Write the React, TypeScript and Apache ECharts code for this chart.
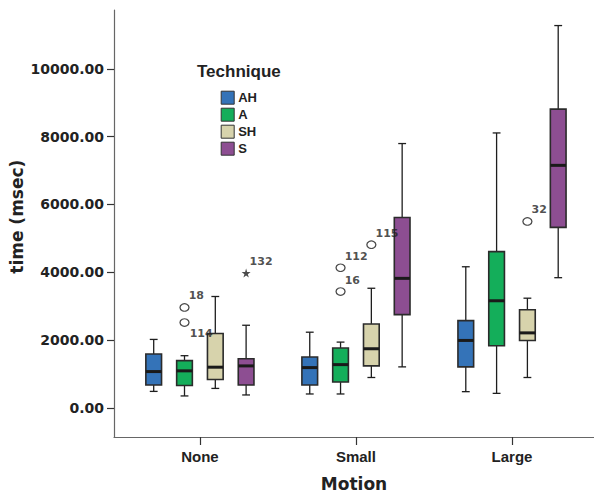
import React, { useEffect, useRef } from "react";
import * as echarts from "echarts";

const categories = ["None", "Small", "Large"];
const techniques = ["AH", "A", "SH", "S"];
const techColors = ["#3473b8", "#14ae5a", "#d7d3ac", "#8d4e92"];

// [low whisker, Q1, median, Q3, high whisker] for None, Small, Large
const ahStats = [
  [485, 672, 1070, 1588, 2018],
  [409, 672, 1187, 1500, 2231],
  [477, 1208, 1988, 2573, 4161],
];
const aStats = [
  [351, 661, 1091, 1392, 1538],
  [409, 760, 1275, 1763, 1939],
  [427, 1830, 3158, 4608, 8108],
];
const shStats = [
  [573, 836, 1199, 2193, 3284],
  [895, 1237, 1743, 2474, 3527],
  [895, 1988, 2211, 2895, 3234],
];
const sStats = [
  [380, 672, 1237, 1450, 2436],
  [1208, 2749, 3819, 5614, 7795],
  [3839, 5322, 7152, 8810, 11275],
];
const allStats = [ahStats, aStats, shStats, sStats];

// outliers (circles)
const outlierIds = ["18", "114", "112", "16", "115", "32"];
const outlierTech = [1, 1, 1, 1, 2, 2];
const outlierCat = [0, 0, 1, 1, 1, 2];
const outlierValues = [2962, 2515, 4132, 3430, 4813, 5497];
const outlierLabelBelow = [false, true, false, false, false, false];

// extremes (stars)
const extremeIds = ["132"];
const extremeTech = [3];
const extremeCat = [0];
const extremeValues = [3977];

const yTicks = [0, 2000, 4000, 6000, 8000, 10000];
const catTicks = [0, 1, 2];

const GROUP_STEP = 0.1974;
const BOX_W = 0.1006;
const techOffset = (j: number) => (j - 1.5) * GROUP_STEP;

export default function App() {
  const ref = useRef<HTMLDivElement>(null);
  useEffect(() => {
    document.body.style.margin = "0";
    if (!ref.current) return;
    const chart = echarts.init(ref.current, null, { renderer: "svg" });

    const boxSeries = allStats.map((stats, j) => ({
      type: "custom",
      name: techniques[j],
      itemStyle: { color: techColors[j] },
      encode: { x: 0, y: [1, 2, 3, 4, 5] },
      data: stats.map((s, i) => [i, ...s]),
      renderItem: (params: any, api: any) => {
        const x = api.value(0) + techOffset(j);
        const low = api.coord([x, api.value(1)]);
        const q1 = api.coord([x, api.value(2)]);
        const med = api.coord([x, api.value(3)]);
        const q3 = api.coord([x, api.value(4)]);
        const high = api.coord([x, api.value(5)]);
        const w = api.size([BOX_W, 0])[0];
        const c = low[0];
        const wl = { stroke: "#1e1e1e", lineWidth: 1.3 };
        return {
          type: "group",
          children: [
            { type: "line", shape: { x1: c, y1: high[1], x2: c, y2: q3[1] }, style: wl },
            { type: "line", shape: { x1: c, y1: q1[1], x2: c, y2: low[1] }, style: wl },
            { type: "line", shape: { x1: c - w / 4, y1: high[1], x2: c + w / 4, y2: high[1] }, style: wl },
            { type: "line", shape: { x1: c - w / 4, y1: low[1], x2: c + w / 4, y2: low[1] }, style: wl },
            {
              type: "rect",
              shape: { x: c - w / 2, y: q3[1], width: w, height: q1[1] - q3[1] },
              style: { fill: techColors[j], stroke: "#2b2b2b", lineWidth: 1.6 },
            },
            {
              type: "line",
              shape: { x1: c - w / 2, y1: med[1], x2: c + w / 2, y2: med[1] },
              style: { stroke: "#1a1a1a", lineWidth: 3 },
            },
          ],
        };
      },
      z: 2,
    }));

    const labelFont = {
      fontFamily: "DejaVu Sans",
      fontWeight: "bold",
      fontSize: 11,
      color: "#222",
    };

    const outlierSeries = {
      type: "scatter",
      name: "outliers",
      symbol: "circle",
      symbolSize: [9, 7.5],
      itemStyle: { color: "#fff", borderColor: "#1e1e1e", borderWidth: 1.2 },
      z: 3,
      data: outlierValues.map((v, k) => ({
        value: [outlierCat[k] + techOffset(outlierTech[k]), v],
        name: outlierIds[k],
        label: {
          show: true,
          formatter: outlierIds[k],
          position: "right",
          distance: 0,
          offset: outlierLabelBelow[k] ? [0, 11] : [-1, -11.5],
          ...labelFont,
        },
      })),
    };

    const extremeSeries = {
      type: "scatter",
      name: "extremes",
      symbol:
        "path://M50,0 L61,35 L98,35 L68,57 L79,91 L50,70 L21,91 L32,57 L2,35 L39,35 Z",
      symbolSize: 9,
      itemStyle: { color: "#1e1e1e" },
      z: 3,
      data: extremeValues.map((v, k) => ({
        value: [extremeCat[k] + techOffset(extremeTech[k]), v],
        name: extremeIds[k],
        label: {
          show: true,
          formatter: extremeIds[k],
          position: "right",
          distance: 0,
          offset: [-1, -12],
          ...labelFont,
        },
      })),
    };

    const option: any = {
      animation: false,
      backgroundColor: "#fff",
      grid: { left: 114, right: 0, top: 10, bottom: 56.3, containLabel: false },
      xAxis: {
        type: "value",
        min: -0.5505,
        max: 2.5255,
        name: "Motion",
        nameLocation: "middle",
        nameGap: 38,
        nameTextStyle: {
          fontFamily: "DejaVu Sans",
          fontWeight: "bold",
          fontSize: 17,
          color: "#222",
        },
        splitLine: { show: false },
        axisLine: { show: true, onZero: false, lineStyle: { color: "#666", width: 1.2 } },
        axisTick: {
          show: true,
          length: 8,
          customValues: catTicks,
          lineStyle: { color: "#333", width: 1.2 },
        },
        axisLabel: {
          customValues: catTicks,
          formatter: (v: number) => categories[Math.round(v)] ?? "",
          margin: 12,
          fontFamily: "Liberation Sans",
          fontWeight: "bold",
          fontSize: 15,
          color: "#222",
        },
      },
      yAxis: {
        type: "value",
        min: -860,
        max: 11734,
        splitLine: { show: false },
        axisLine: { show: true, onZero: false, lineStyle: { color: "#666", width: 1.2 } },
        axisTick: {
          show: true,
          length: 7,
          customValues: yTicks,
          lineStyle: { color: "#333", width: 1.2 },
        },
        axisLabel: {
          customValues: yTicks,
          formatter: (v: number) => v.toFixed(2),
          margin: 10,
          fontFamily: "DejaVu Sans",
          fontWeight: "bold",
          fontSize: 14,
          color: "#222",
        },
      },
      legend: {
        data: techniques,
        orient: "vertical",
        left: 220.7,
        top: 90.7,
        padding: 0,
        icon: "rect",
        itemWidth: 13,
        itemHeight: 13,
        itemGap: 3,
        selectedMode: false,
        itemStyle: { borderColor: "#333", borderWidth: 1 },
        textStyle: {
          fontFamily: "Liberation Sans",
          fontWeight: "bold",
          fontSize: 13,
          color: "#222",
          padding: [0, 0, 0, -1],
        },
      },
      graphic: [
        {
          type: "text",
          left: 197,
          top: 63,
          style: {
            text: "Technique",
            font: "bold 17px 'Liberation Sans'",
            fill: "#222",
          },
        },
        {
          type: "text",
          x: 17,
          y: 216.7,
          rotation: Math.PI / 2,
          style: {
            text: "time (msec)",
            font: "bold 17px 'DejaVu Sans'",
            fill: "#222",
            align: "center",
            verticalAlign: "middle",
          },
        },
      ],
      series: [...boxSeries, outlierSeries, extremeSeries],
    };

    chart.setOption(option);
    return () => chart.dispose();
  }, []);

  return <div ref={ref} style={{ width: 594, height: 497 }} />;
}
